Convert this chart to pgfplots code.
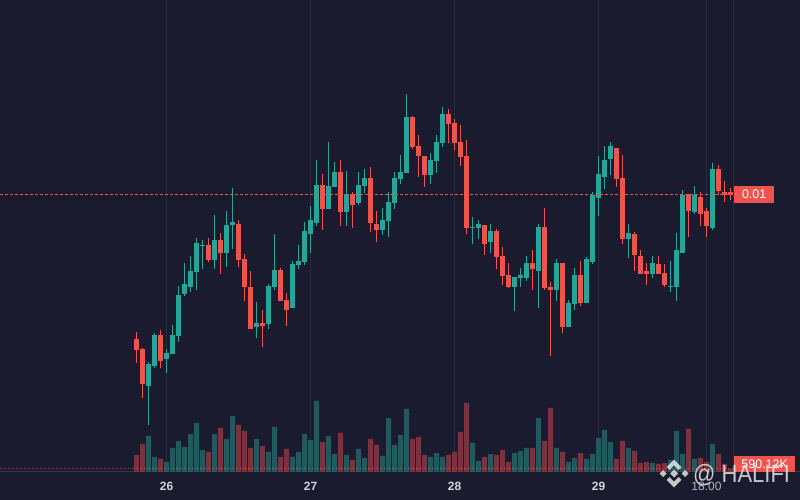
\documentclass[border=0pt]{standalone}
\usepackage{pgfplots}
\pgfplotsset{compat=1.18}
\usepackage{pgfplotstable}
\usepackage{graphicx}
\usepackage{fontspec}
\setmainfont{Liberation Sans}
\definecolor{bg}{RGB}{26,27,46}
\definecolor{gridc}{RGB}{42,44,62}
\definecolor{sepc}{RGB}{54,56,74}
\definecolor{cgreen}{HTML}{26A69A}
\definecolor{cred}{HTML}{EF5350}
\definecolor{vgreen}{RGB}{32,90,95}
\definecolor{vred}{RGB}{122,50,60}
\definecolor{tickc}{RGB}{209,212,220}
\definecolor{tickc2}{RGB}{178,181,190}
\definecolor{wm}{RGB}{228,228,228}

% k = hour index from day 26 00:00; o h l c = price (chart units); vol = volume (K)
\pgfplotstableread{
k o h l c vol
-3 114 138 75 136 7081
-2 134 167 132 165 2951
0 141 151 127 147 1967
1 146 175 146 165 4721
2 164 214 158 205 6098
3 206 237 204 216 4918
4 213 244 208 229 7475
5 228 262 210 257 9638
6 254 260 231 255 4327
8 240 285 231 260 7475
10 247 289 233 275 6491
11 275 312 251 278 11015
15 173 198 162 177 6491
17 176 216 171 214 3934
18 213 266 210 230 8852
21 192 239 192 236 2951
22 235 255 231 239 3934
23 238 278 235 269 7475
24 266 294 247 280 6294
25 277 340 274 315 13966
27 291 358 291 314 7081
28 313 338 313 328 3541
30 288 329 274 306 3344
32 297 328 295 315 4524
33 314 331 307 322 2754
36 270 292 265 280 3147
37 279 308 263 298 10622
38 297 328 291 322 5311
39 321 345 316 328 7278
40 327 406 327 383 12392
44 325 347 316 340 2951
45 339 365 327 358 3737
46 357 393 353 386 2951
51 272 283 256 273 5704
52 272 280 261 276 2164
54 258 276 247 269 3541
58 213 223 189 223 3737
59 222 232 213 225 4131
60 222 244 219 237 4721
62 229 276 192 273 10622
65 210 241 199 237 4721
67 173 200 173 197 1967
68 196 232 190 225 2754
70 197 243 197 241 2557
71 238 308 236 305 3541
72 302 344 284 326 6688
73 323 354 311 340 8261
74 341 358 325 354 5901
77 261 276 242 267 4721
81 226 244 222 237 1770
84 213 239 208 214 2360
85 213 267 199 250 8065
86 247 310 247 305 3541
88 288 314 286 305 2557
91 272 337 270 331 5508
}\up

\pgfplotstableread{
k o h l c vol
-5 161 168 137 150 3344
-4 151 152 102 116 5508
-1 165 170 132 139 2557
7 255 262 238 240 3934
9 260 267 226 247 8655
12 276 280 233 240 9245
13 241 246 199 213 8065
14 213 229 171 171 4721
16 177 190 153 174 5114
19 230 232 199 199 2951
20 200 207 174 190 4524
26 315 326 270 291 5901
29 328 340 274 288 7671
31 306 308 272 295 2360
34 322 333 268 277 6491
35 276 289 258 270 5311
41 383 384 351 353 6491
42 354 365 323 344 6885
43 344 344 313 325 3344
47 386 391 357 376 3344
48 377 381 350 357 3934
49 358 375 334 343 7868
50 344 360 266 272 13572
53 275 275 245 256 2951
55 269 271 231 243 3344
56 244 253 215 224 4327
57 225 237 212 213 1967
61 237 250 210 231 4721
63 273 292 210 212 6098
64 213 218 144 210 12589
66 237 237 167 173 3934
69 225 239 194 197 3737
75 352 352 313 321 2557
76 322 345 256 261 6098
78 266 268 229 245 4131
79 244 250 226 226 1770
80 229 237 215 226 1967
82 236 244 226 226 1574
83 227 236 213 215 1770
87 306 306 263 289 8458
89 303 308 274 286 2754
90 289 292 263 274 1967
92 331 335 305 309 3541
93 308 319 298 305 1574
94 308 312 300 305 590.12
}\down

\begin{document}
\begin{tikzpicture}
\fill[bg] (0,0) rectangle (800pt,500pt);

% ---------- volume pane (also carries grid and time axis) ----------
\begin{axis}[
  at={(0pt,28pt)}, anchor=south west,
  width=800pt, height=472pt, scale only axis,
  xmin=-27.75, xmax=105.5833, ymin=0, ymax=92842.4,
  axis x line*=bottom, axis y line=none,
  x axis line style={draw=sepc, line width=1pt},
  xtick={0,24,48,72,90},
  xticklabels={\textbf{26},\textbf{27},\textbf{28},\textbf{29},{\color{tickc2}18:00}},
  extra x ticks={94.58}, extra x tick labels={},
  extra x tick style={grid=major},
  major tick length=0pt, ytick=\empty,
  xmajorgrids, grid style={draw=gridc, line width=1pt},
  xticklabel style={anchor=center, yshift=-14pt, text=tickc,
    font=\fontsize{12}{14}\selectfont},
]
\addplot[ybar, bar width=5pt, bar shift=0pt, fill=vgreen, draw=none] table[x=k, y=vol] {\up};
\addplot[ybar, bar width=5pt, bar shift=0pt, fill=vred, draw=none] table[x=k, y=vol] {\down};
\addplot[cred, opacity=0.55, line width=1pt, dash pattern=on 2pt off 2pt] coordinates {(-27.75,590.12) (94.58,590.12)};
\node[fill=cred, text=white, anchor=west, minimum width=61pt, minimum height=16pt,
  inner sep=0pt, font=\fontsize{12.5}{14}\selectfont] at (axis cs:94.58,1574) {590.12K};
\end{axis}

% ---------- price pane ----------
\begin{axis}[
  at={(0pt,28pt)}, anchor=south west,
  width=800pt, height=472pt, scale only axis,
  xmin=-27.75, xmax=105.5833, ymin=28, ymax=500,
  hide axis,
]
% wicks
\addplot[draw=none, no markers, forget plot,
  error bars/.cd, y dir=plus, y explicit, error mark=none,
  error bar style={draw=cgreen, line width=1pt}]
  table[x=k, y=l, y error plus expr=\thisrow{h}-\thisrow{l}] {\up};
\addplot[draw=none, no markers, forget plot,
  error bars/.cd, y dir=plus, y explicit, error mark=none,
  error bar style={draw=cred, line width=1pt}]
  table[x=k, y=l, y error plus expr=\thisrow{h}-\thisrow{l}] {\down};
% bodies
\addplot[draw=none, no markers, forget plot,
  error bars/.cd, y dir=plus, y explicit, error mark=none,
  error bar style={draw=cgreen, line width=5pt, line cap=butt}]
  table[x=k, y=o, y error plus expr=\thisrow{c}-\thisrow{o}] {\up};
\addplot[draw=none, no markers, forget plot,
  error bars/.cd, y dir=plus, y explicit, error mark=none,
  error bar style={draw=cred, line width=5pt, line cap=butt}]
  table[x=k, y=c, y error plus expr=\thisrow{o}-\thisrow{c}] {\down};
% last price line
\addplot[cred, line width=1pt, dash pattern=on 3pt off 2pt] coordinates {(-27.75,305.5) (94.58,305.5)};
\node[fill=cred, text=white, anchor=west, minimum width=40pt, minimum height=17pt,
  inner sep=0pt, font=\fontsize{12.5}{14}\selectfont] at (axis cs:94.58,305.5) {0.01};
\end{axis}

% ---------- watermark ----------
\begin{scope}[wm, opacity=0.85]
\fill (674pt,30.5pt) -- (678pt,26.5pt) -- (674pt,22.5pt) -- (670pt,26.5pt) -- cycle;
\fill (663pt,30pt) -- (666.5pt,26.5pt) -- (663pt,23pt) -- (659.5pt,26.5pt) -- cycle;
\fill (685pt,30pt) -- (688.5pt,26.5pt) -- (685pt,23pt) -- (681.5pt,26.5pt) -- cycle;
\draw[line width=4pt, miter limit=3] (668pt,31.5pt) -- (674pt,37.5pt) -- (680pt,31.5pt);
\draw[line width=4pt, miter limit=3] (668pt,21.5pt) -- (674pt,15.5pt) -- (680pt,21.5pt);
\node[anchor=base west, inner sep=0pt, text=wm, font=\fontsize{25}{25}\selectfont]
  at (693pt,17pt) {\scalebox{0.88}[1]{@ HALIFI}};
\end{scope}

\pgfresetboundingbox
\path (0,0) rectangle (800pt,500pt);
\end{tikzpicture}
\end{document}
